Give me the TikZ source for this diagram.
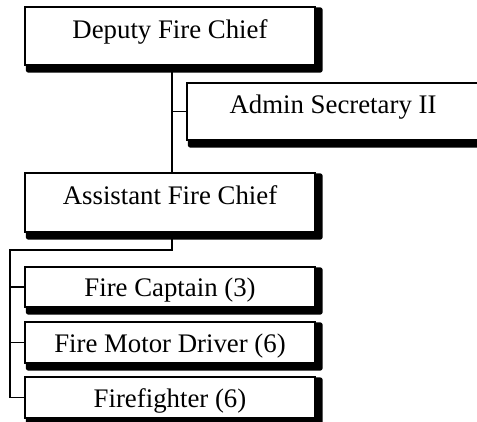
\documentclass[tikz,border=0pt]{standalone}
\usepackage{fontspec}
\setmainfont{Liberation Serif}
\usetikzlibrary{backgrounds}
\begin{document}
\begin{tikzpicture}[
  box/.style={draw=black, fill=white, line width=1.3pt, inner sep=0pt,
    font=\fontsize{26.8}{30}\selectfont, align=center},
  bigbox/.style={box, text height=18pt, text depth=14pt},
  smallbox/.style={box, text height=22pt, text depth=3pt, minimum width=290pt},
  conn/.style={draw=black, line width=1.3pt},
  shadowfill/.style={fill=black, rounded corners=2.5pt}
]
\useasboundingbox (0,0) rectangle (477pt,-421pt);
\node[bigbox, minimum width=290pt, minimum height=58pt] (dep) at (170pt,-36pt) {Deputy Fire Chief};
\node[bigbox, minimum width=292pt, minimum height=57pt] (adm) at (333pt,-111.5pt) {Admin Secretary II};
\node[bigbox, minimum width=290pt, minimum height=59pt] (asst) at (170pt,-202.5pt) {Assistant Fire Chief};
\node[smallbox, minimum height=40pt] (cap) at (170pt,-287pt) {Fire Captain (3)};
\node[smallbox, minimum height=41pt] (drv) at (170pt,-342.5pt) {Fire Motor Driver (6)};
\node[smallbox, minimum height=41pt] (ff) at (170pt,-397.5pt) {Firefighter (6)};
\begin{scope}[on background layer]
  \fill[white] (0,0) rectangle (477pt,-421pt);
  \foreach \n in {dep,adm,asst,cap,drv,ff}
    \fill[shadowfill] ([xshift=1.5pt,yshift=-1pt]\n.north west) rectangle ([xshift=7pt,yshift=-7pt]\n.south east);
  \coordinate (v) at (172pt,0pt);
  \coordinate (b) at (10pt,-250pt);
  \draw[conn] (v |- dep.south) -- (v |- asst.north);
  \draw[conn] (adm.west) -- (v |- adm.west);
  \draw[conn] (v |- asst.south) |- (b) |- (ff.west);
  \draw[conn] (cap.west) -- (cap.west -| b);
  \draw[conn] (drv.west) -- (drv.west -| b);
\end{scope}
\end{tikzpicture}
\end{document}
